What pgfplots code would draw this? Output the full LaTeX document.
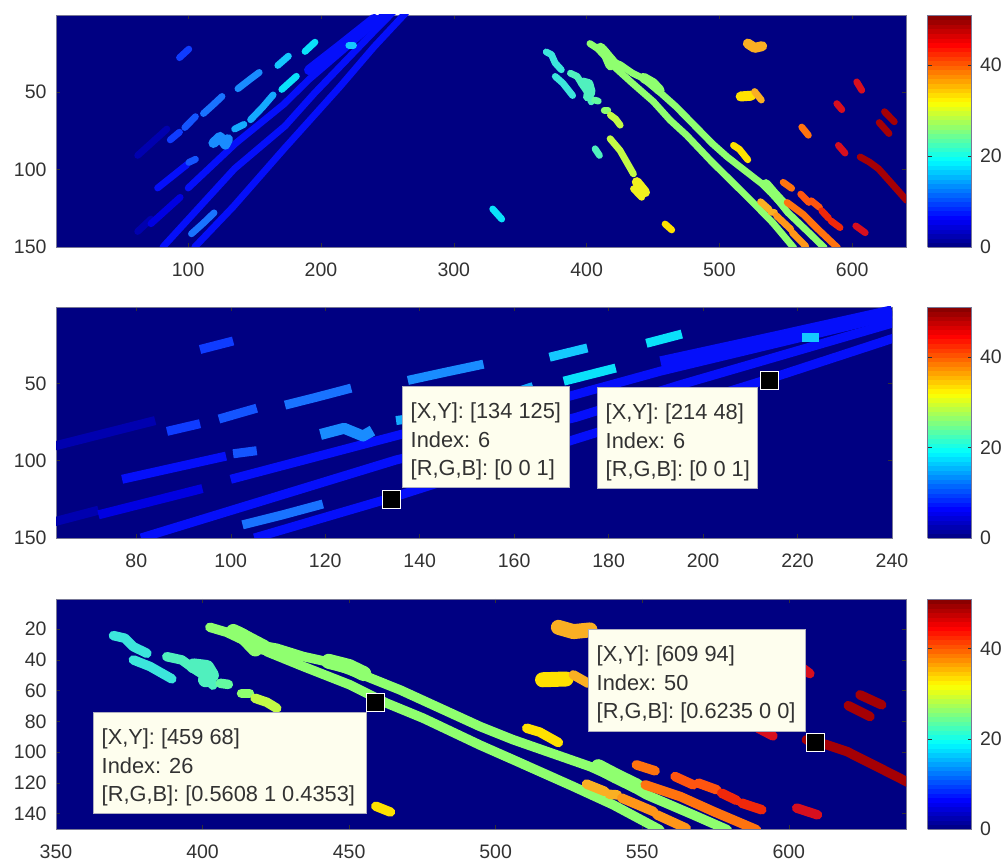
\documentclass[border=0pt]{standalone}
\usepackage{fontspec}
\setmainfont{Liberation Sans}
\usepackage{pgfplots}
\pgfplotsset{compat=1.18}
\definecolor{navy}{RGB}{0,0,130}
\definecolor{tickc}{RGB}{50,50,50}
\definecolor{edgec}{RGB}{120,120,150}
\definecolor{tipbg}{RGB}{254,254,238}
\definecolor{dk}{RGB}{0,0,175}
\definecolor{md}{RGB}{0,0,225}
\definecolor{bl}{RGB}{5,15,250}
\definecolor{b1}{RGB}{15,60,255}
\definecolor{b2}{RGB}{20,85,255}
\definecolor{b3}{RGB}{25,115,255}
\definecolor{b4}{RGB}{25,140,255}
\definecolor{b5}{RGB}{20,170,255}
\definecolor{b6}{RGB}{20,200,255}
\definecolor{b7}{RGB}{10,225,250}
\definecolor{t1}{RGB}{60,230,220}
\definecolor{t2}{RGB}{80,240,190}
\definecolor{t3}{RGB}{100,250,160}
\definecolor{gr}{RGB}{143,255,111}
\definecolor{yg}{RGB}{195,250,70}
\definecolor{yl}{RGB}{240,240,30}
\definecolor{y2}{RGB}{255,225,0}
\definecolor{o0}{RGB}{250,175,35}
\definecolor{o1}{RGB}{255,150,25}
\definecolor{o2}{RGB}{255,115,15}
\definecolor{o3}{RGB}{255,85,15}
\definecolor{r1}{RGB}{240,40,10}
\definecolor{r2}{RGB}{215,15,30}
\definecolor{r3}{RGB}{165,0,5}
\newcommand{\seg}[2]{\addplot[seg,#1] coordinates {#2};}
\newcommand{\fat}[2]{\addplot[fat,#1] coordinates {#2};}
\newcommand{\alldata}{%
\seg{dk}{(62,91)(84,74)}
\seg{dk}{(62,140)(72,132)}
\seg{md}{(72,135)(94,118)}
\seg{bl}{(77,112)(99,97)}
\seg{bl}{(100,112)(136,83)(172,58)(191,42)(240,6)(250,-2)}
\fat{bl}{(191,36)(215,20)(240,3)}
\seg{bl}{(81,150)(135,99.5)(173,72)(195,51)(240,11)(255,-2)}
\seg{bl}{(105,150)(134,124)(173,86)(214,47)(240,21)(264,-1)}
\seg{b1}{(93.5,28)(100.5,22.5)}
\seg{b1}{(86.5,81)(93.5,76)}
\seg{b2}{(97.5,73)(105.5,66)}
\seg{b2}{(100.5,95.5)(105.5,93.5)}
\seg{b3}{(111.5,64)(118,59)(125.5,53)}
\seg{b3}{(102.5,141.5)(111,135)(119.5,128)}
\fat{b4}{(119,83)(124,79)(128,84)(130,80.5)}
\seg{b4}{(137.5,48)(145,43)(153.5,37.5)}
\seg{b5}{(135,74)(142,71)}
\seg{b5}{(147,68)(156,60)(164,52)}
\seg{b6}{(167.5,33)(175.5,27)}
\seg{b7}{(170.5,48.5)(181.5,40)}
\seg{b7}{(188,24)(195.5,18)}
\seg{b6}{(221,20)(224.5,20)}
\seg{b7}{(329.3,125.5)(336.1,132)}
\seg{t1}{(369.6,24.3)(373.5,26)(376.4,31.5)(381,35.8)}
\seg{t1}{(376.4,40.1)(382.1,44.4)(389.5,52.4)}
\seg{t2}{(387.8,38)(392.9,40.1)(396.8,45.5)(402,52)(403.5,56.5)}
\fat{t2}{(397,44)(401.4,45)(403,50)(401,53)}
\seg{t3}{(406,55.3)(408.8,56)}
\seg{gr}{(413.3,61.8)(416,61.8)}
\seg{yg}{(417.9,65)(421.9,67.6)(425.3,71.5)}
\seg{t2}{(406.4,86.7)(409.7,91)}
\seg{yg}{(417.7,80.2)(425.2,87.8)(435.3,102.9)}
\fat{yl}{(437.8,108.2)(444,114.7)}
\seg{yl}{(435.3,112.5)(441.5,118)}
\seg{y2}{(459.1,135.2)(464.1,139)}
\seg{gr}{(402.5,18.9)(408.2,22.1)(416.2,29.3)}
\fat{gr}{(410.5,21.6)(414,25)(418,33)}
\fat{gr}{(412,23)(421,32)}
\seg{gr}{(421.9,34.7)(434.4,44.4)(450.3,56.3)(462.8,68.2)(475.3,78)(494.7,95.5)(506,105)(526.5,122.4)(540.1,134.3)(556,150.5)}
\seg{gr}{(418,30)(425.3,32.5)(434.4,37.9)(442.3,41.2)(456,50.9)(467.4,59.6)(494.7,83.4)(506,92)(532.2,109.4)(542.4,118)(551.5,127.8)(567.4,140.8)(579,150.5)}
\fat{gr}{(443,41)(450,44.4)(455,49)}
\fat{gr}{(535,109.5)(541,115.5)(548,122)}
\seg{o0}{(531,120.8)(537.3,125.6)}
\seg{o0}{(538.8,127.5)(541.5,127.8)}
\seg{o1}{(543,129.9)(553.8,138.6)}
\seg{o1}{(555,140.8)(565,149.5)}
\seg{o2}{(551,121.3)(563,128.9)(574.3,138.6)(589,150.5)}
\seg{o2}{(548,108.3)(554.4,112.2)}
\seg{o3}{(561.2,115.9)(567.4,121.3)}
\seg{o3}{(569.2,120.2)(575.4,124.5)}
\seg{r1}{(577.1,126.7)(582.2,131.4)}
\seg{r1}{(584,133.2)(590.8,137.5)}
\seg{r2}{(602.7,136.4)(609.8,140.8)}
\seg{r3}{(606,92)(613,95.3)(619.8,99.6)(628.9,108.3)(641,120)}
\fat{o0}{(521.4,18.9)(526.5,21.7)(532.2,20.6)}
\fat{y2}{(516,53)(524,52.5)}
\seg{o0}{(526.5,49.8)(531.6,55.3)}
\seg{y2}{(510.6,84.5)(515,87)(521.4,93.8)}
\seg{o2}{(562,72.7)(567,78)}
\seg{r2}{(603.4,43.6)(607.2,49)}
\seg{r2}{(588.4,57.6)(592.2,61.5)}
\seg{r2}{(589.6,84.5)(594.6,89.5)}
\seg{r3}{(624.3,62.8)(631.7,69.3)}
\seg{r3}{(620.3,69.8)(627.7,76.9)}
}
\pgfplotsset{
 panel/.style 2 args={
  at={(#1)},anchor=south west,scale only axis,
  y dir=reverse,ymax=150,
  axis background/.style={fill=navy},
  axis line style={edgec,line width=.6pt},
  tick style={tickc,line width=.5pt},
  major tick length=4pt,
  tick align=inside,xtick pos=both,ytick pos=both,
  xticklabel pos=lower,yticklabel pos=left,
  tick label style={font=\fontsize{19.5}{22}\selectfont,text=tickc},
  /pgf/number format/assume math mode=true,
  xticklabel style={yshift=-12pt},
  yticklabel style={xshift=-6pt},
  colormap/jet,point meta min=0,point meta max=51,
  colorbar sampled,
  colorbar style={
    samples=52,
    at={(parent axis.north east)},anchor=north west,xshift=#2,
    width=44pt,scale only axis,
    ytick={0,20,40},yticklabel pos=right,
    axis line style={edgec,line width=.6pt},
    major tick length=4pt,
    tick label style={font=\fontsize{19.5}{22}\selectfont,text=tickc},
    /pgf/number format/assume math mode=true,
    yticklabel style={xshift=5pt},
  },
 },
 pick/.style={only marks,mark=square*,mark size=9pt,
   mark options={fill=black,draw=white,line width=1pt}},
}
\newcommand{\tip}[7]{% left top right bottom textleft dy1 lines
 \fill[tipbg,draw=edgec!60,line width=.5pt] (#1pt,864pt-#2pt) rectangle (#3pt,864pt-#4pt);
 \node[anchor=base west,inner sep=0pt,text=tickc,font=\fontsize{21.8}{26}\selectfont] at ({#1pt+8.5pt},864pt-#2pt-33pt) {#5};
 \node[anchor=base west,inner sep=0pt,text=tickc,font=\fontsize{21.8}{26}\selectfont] at ({#1pt+8.5pt},864pt-#2pt-61.5pt) {#6};
 \node[anchor=base west,inner sep=0pt,text=tickc,font=\fontsize{21.8}{26}\selectfont] at ({#1pt+8.5pt},864pt-#2pt-90pt) {#7};
}
\begin{document}
\begin{tikzpicture}
\path[use as bounding box] (0,0) rectangle (1007pt,864pt);
\begin{axis}[panel={56pt,617pt}{13pt},width=850pt,height=232pt,
  xmin=0.5,xmax=640.5,ymin=0.5,
  xtick={100,200,...,600},ytick={50,100,150},
  seg/.style={line width=6.8pt,line cap=round,line join=round,mark=none},
  fat/.style={line width=10pt,line cap=round,line join=round,mark=none},
  ]
\alldata
\end{axis}
\begin{axis}[panel={56pt,326pt}{27pt},width=836pt,height=231pt,
  xmin=63,xmax=240,ymin=0.5,
  xtick={80,100,...,240},ytick={50,100,150},
  seg/.style={line width=9pt,line cap=butt,line join=round,mark=none},
  fat/.style={line width=11pt,line cap=butt,line join=round,mark=none},
  ]
\alldata
\addplot[pick] coordinates {(134,125)(214,48)};
\end{axis}
\begin{axis}[panel={56pt,35pt}{13pt},width=850pt,height=230pt,
  xmin=350,xmax=640,ymin=0.5,
  xtick={350,400,...,600},ytick={20,40,...,140},
  seg/.style={line width=9.5pt,line cap=round,line join=round,mark=none},
  fat/.style={line width=15pt,line cap=round,line join=round,mark=none},
  ]
\alldata
\addplot[pick] coordinates {(459,68)(609,94)};
\end{axis}
\tip{402}{386}{569}{487}{[X,Y]: [134 125]}{Index: 6}{[R,G,B]: [0 0 1]}
\tip{597}{387}{757}{488}{[X,Y]: [214 48]}{Index: 6}{[R,G,B]: [0 0 1]}
\tip{93}{712}{366}{813}{[X,Y]: [459 68]}{Index: 26}{[R,G,B]: [0.5608 1 0.4353]}
\tip{588}{629}{805}{731}{[X,Y]: [609 94]}{Index: 50}{[R,G,B]: [0.6235 0 0]}
\end{tikzpicture}
\end{document}
